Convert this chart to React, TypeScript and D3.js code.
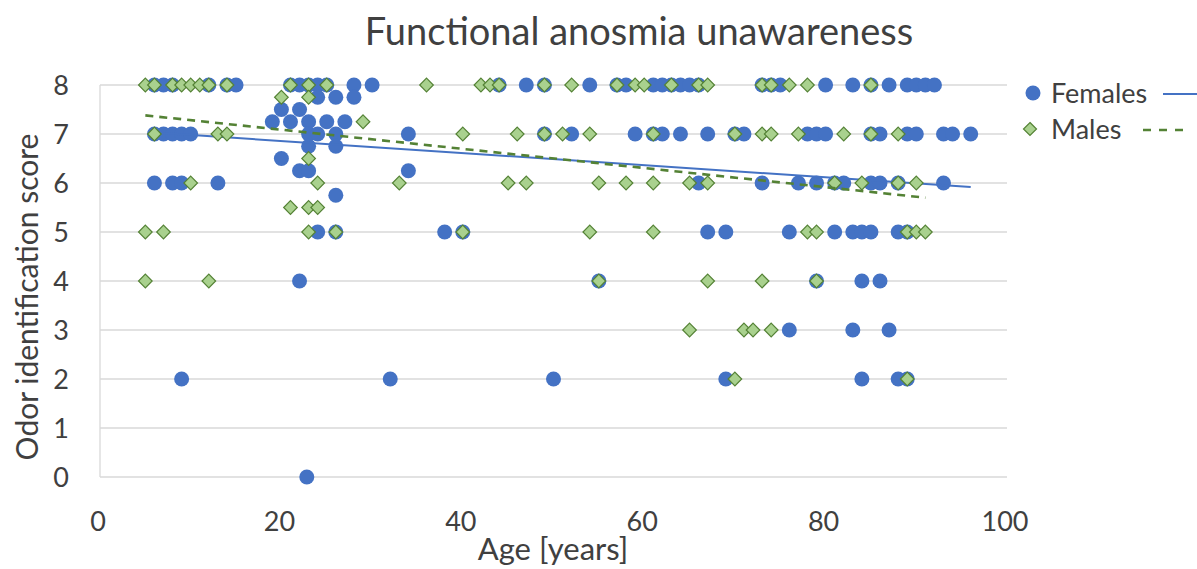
import React from 'react';
import * as d3 from 'd3';

// ages, grouped by odor identification score
const females: [number, number[]][] = [
  [8, [6, 7, 8, 12, 14, 15, 21, 22, 23, 24, 25, 28, 30, 44, 47, 49, 54, 57, 58, 61, 62, 63, 64, 65, 66, 73, 74, 75, 80, 83, 85, 87, 89, 90, 91, 92]],
  [7.75, [24, 26, 28]],
  [7.5, [20, 22]],
  [7.25, [19, 21, 23, 25, 27]],
  [7, [6, 7, 8, 9, 10, 23, 24, 26, 34, 49, 52, 59, 61, 62, 64, 67, 70, 71, 78, 79, 80, 85, 86, 89, 90, 93, 94, 96]],
  [6.75, [23, 26]],
  [6.5, [20]],
  [6.25, [22, 23, 34]],
  [6, [6, 8, 9, 13, 66, 73, 77, 79, 81, 82, 85, 86, 88, 93]],
  [5.75, [26]],
  [5, [24, 26, 38, 40, 67, 69, 76, 81, 83, 84, 85, 88, 89]],
  [4, [22, 55, 79, 84, 86]],
  [3, [76, 83, 87]],
  [2, [9, 32, 50, 69, 84, 88, 89]],
  [0, [22.8]],
];

const males: [number, number[]][] = [
  [8, [5, 6, 8, 9, 10, 11, 12, 14, 21, 23, 25, 36, 42, 43, 44, 49, 52, 57, 59, 60, 63, 66, 67, 73, 74, 76, 78, 85]],
  [7.75, [20, 23]],
  [7.25, [29]],
  [7, [6, 13, 14, 40, 46, 49, 51, 54, 61, 70, 73, 74, 77, 82, 85, 88]],
  [6.5, [23]],
  [6, [10, 24, 33, 45, 47, 55, 58, 61, 65, 67, 81, 84, 88, 90]],
  [5.5, [21, 23, 24]],
  [5, [5, 7, 23, 26, 40, 54, 61, 78, 79, 89, 90, 91]],
  [4, [5, 12, 55, 67, 73, 79]],
  [3, [65, 71, 72, 74]],
  [2, [70, 89]],
];

// linear trendline end points as drawn
const femaleTrend: [number, number][] = [[6, 7.03], [96, 5.92]];
const maleTrend: [number, number][] = [[5, 7.38], [91, 5.7]];

const xTicks = [0, 20, 40, 60, 80, 100];
const yTicks = [0, 1, 2, 3, 4, 5, 6, 7, 8];

const font = 'Lato, "Open Sans", sans-serif';
const blue = '#4472C4';
const green = '#A9D18E';
const greenDark = '#548235';
const textColor = '#404040';

const flat = (rows: [number, number[]][]) =>
  rows.flatMap(([score, ages]) => ages.map((age) => ({ age, score })));

const App = () => {
  const width = 1197;
  const height = 569;

  const x = d3.scaleLinear().domain([0, 100]).range([100, 1007]);
  const y = d3.scaleLinear().domain([0, 8]).range([477, 85]);

  const line = d3
    .line<[number, number]>()
    .x((d) => x(d[0]))
    .y((d) => y(d[1]));

  const diamond = (cx: number, cy: number, r = 6.8) =>
    `M${cx},${cy - r}L${cx + r},${cy}L${cx},${cy + r}L${cx - r},${cy}Z`;

  return (
    <svg
      width={width}
      height={height}
      style={{ position: 'absolute', left: 0, top: 0, background: '#fff' }}
      fontFamily={font}
    >
      <rect width={width} height={height} fill="#fff" />
      {yTicks.map((t) => (
        <line key={t} x1={x(0)} x2={x(100)} y1={y(t)} y2={y(t)} stroke="#D9D9D9" strokeWidth={1.3} />
      ))}
      <line x1={x(0)} x2={x(0)} y1={y(0)} y2={y(8)} stroke="#D9D9D9" strokeWidth={1.3} />

      {yTicks.map((t) => (
        <text key={t} x={69} y={y(t)} dy="0.36em" textAnchor="end" fontSize={27} fill={textColor}>
          {t}
        </text>
      ))}
      {xTicks.map((t) => (
        <text key={t} x={x(t) - 2} y={531} textAnchor="middle" fontSize={27} fill={textColor}>
          {t}
        </text>
      ))}

      <text x={639} y={45} textAnchor="middle" fontSize={38} fill={textColor}>
        Functional anosmia unawareness
      </text>
      <text x={553} y={560} textAnchor="middle" fontSize={31} fill={textColor}>
        Age [years]
      </text>
      <text
        transform={`translate(38,${y(4) + 16}) rotate(-90)`}
        textAnchor="middle"
        fontSize={30}
        fill={textColor}
      >
        Odor identification score
      </text>

      {flat(females).map((d, i) => (
        <circle key={i} cx={x(d.age)} cy={y(d.score)} r={7.5} fill={blue} />
      ))}
      <path d={line(femaleTrend) || ''} fill="none" stroke={blue} strokeWidth={2} />

      {flat(males).map((d, i) => (
        <path key={i} d={diamond(x(d.age), y(d.score))} fill={green} stroke={greenDark} strokeWidth={1.2} />
      ))}
      <path d={line(maleTrend) || ''} fill="none" stroke={greenDark} strokeWidth={2.6} strokeDasharray="8,6" />

      {/* legend */}
      <circle cx={1033} cy={93} r={7.5} fill={blue} />
      <text x={1051} y={103} fontSize={27} fill={textColor}>Females</text>
      <line x1={1163} x2={1197} y1={94} y2={94} stroke={blue} strokeWidth={2} />
      <path d={diamond(1030, 129, 6.5)} fill={green} stroke={greenDark} strokeWidth={1.2} />
      <text x={1051} y={139} fontSize={27} fill={textColor}>Males</text>
      <line x1={1143} x2={1185} y1={130} y2={130} stroke={greenDark} strokeWidth={2.6} strokeDasharray="8,8" />
    </svg>
  );
};

export default App;
